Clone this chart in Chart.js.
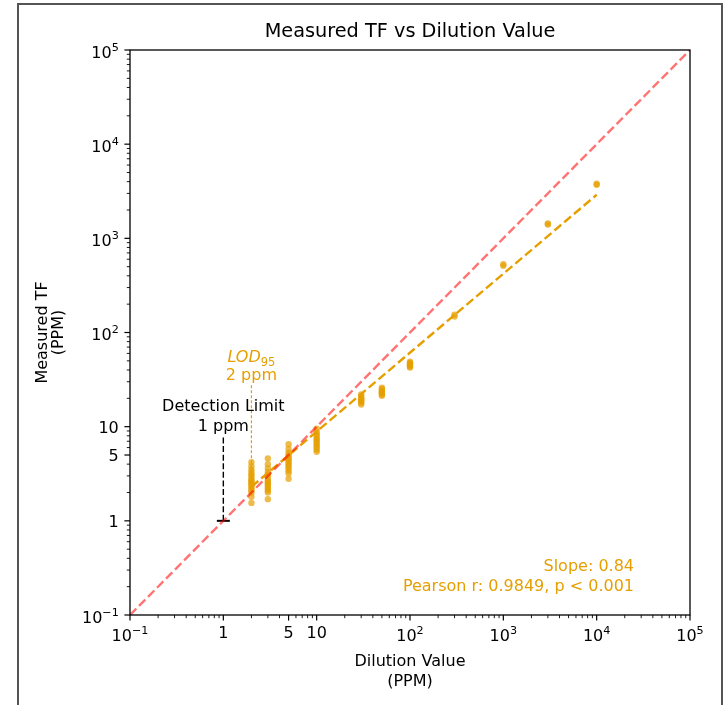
<!DOCTYPE html>
<html>
<head>
<meta charset="utf-8">
<script src="https://cdn.jsdelivr.net/npm/chart.js@4.4.0/dist/chart.umd.min.js"></script>
<style>
  html, body { margin: 0; padding: 0; background: #fff; }
  #wrap { position: relative; width: 725px; height: 705px; overflow: hidden; }
  #frame { position: absolute; left: 17px; top: 3px; width: 702px; height: 720px; border: 2px solid #555; }
  canvas { position: absolute; left: 0; top: 0; }
</style>
</head>
<body>
<div id="wrap">
  <div id="frame"></div>
  <canvas id="chart" width="725" height="705"></canvas>
</div>
<script>
// dilution levels (PPM) and the measured TF replicates at each level
const dilutionLevels = [2, 3, 5, 10, 30, 50, 100, 300, 1000, 3000, 10000];
const measuredTF = [
  [4.2, 3.8, 3.5, 3.3, 3.1, 3.0, 2.8, 2.7, 2.6, 2.5, 2.4, 2.3, 2.2, 2.1, 2.0, 1.8, 1.55],
  [4.6, 4.0, 3.6, 3.3, 3.1, 2.9, 2.7, 2.6, 2.5, 2.4, 2.3, 2.2, 2.1, 2.0, 1.7],
  [6.5, 5.8, 5.3, 5.0, 4.8, 4.6, 4.4, 4.2, 4.0, 3.8, 3.6, 3.4, 3.2, 2.8],
  [9.5, 8.8, 8.3, 7.9, 7.5, 7.2, 6.9, 6.6, 6.3, 6.0, 5.7, 5.4],
  [22, 21, 20, 19.5, 19, 18.5, 18, 17.2],
  [26, 25, 24.2, 23.5, 23, 22.5, 22, 21.3],
  [49, 47.5, 46.5, 45.5, 44.5, 43.5, 42.5],
  [148, 155],
  [510, 530],
  [1400, 1440],
  [3700, 3800]
];

// reference lines
const identityX = [0.1, 100000];
const fitX = [2, 10000];
const fitY = [2.3, 2900];
const detectionLimit = 1;
const detectionTop = 8;
const lod95 = 2;
const lodTop = 28;
const lodBottom = 2.5;

const slopeText = 'Slope: 0.84';
const pearsonText = 'Pearson r: 0.9849, p < 0.001';

// axis ticks (base^exponent)
const xTickValues = [0.1, 1, 5, 10, 100, 1000, 10000, 100000];
const xTickLabels = ['10^\u22121', '1', '5', '10', '10^2', '10^3', '10^4', '10^5'];
const yTickValues = [0.1, 1, 5, 10, 100, 1000, 10000, 100000];
const yTickLabels = ['10^\u22121', '1', '5', '10', '10^2', '10^3', '10^4', '10^5'];
const minorSteps = [2, 3, 4, 5, 6, 7, 8, 9];
const decades = [0.1, 1, 10, 100, 1000, 10000];

const ORANGE = '#E69F00';
const FONT = 'DejaVu Sans';
const BASE_PX = 16;
const EXP_PX = 11.2;

const points = [];
dilutionLevels.forEach((d, i) => {
  measuredTF[i].forEach(v => points.push({ x: d, y: v }));
});

// draws "10^5" style label; align = 'center' (x axis) or 'right' (y axis)
function sciLabel(ctx, label, px, py, align) {
  const [base, exp] = label.split('^');
  ctx.font = BASE_PX + 'px "' + FONT + '"';
  const wb = ctx.measureText(base).width;
  let we = 0;
  if (exp) { ctx.font = EXP_PX + 'px "' + FONT + '"'; we = ctx.measureText(exp).width; }
  const cap = BASE_PX * 0.73;
  const rise = exp ? 7 : 0;
  const h = cap + (exp ? 3.5 : 0);
  let left, baseline;
  if (align === 'center') {
    left = px - (wb + we) / 2;
    baseline = py + h;           // py = top of label box
  } else {
    left = px - wb - we;
    baseline = py + h / 2;       // py = tick centre
  }
  ctx.textAlign = 'left';
  ctx.textBaseline = 'alphabetic';
  ctx.font = BASE_PX + 'px "' + FONT + '"';
  ctx.fillText(base, left, baseline);
  if (exp) {
    ctx.font = EXP_PX + 'px "' + FONT + '"';
    ctx.fillText(exp, left + wb, baseline - rise);
  }
}

const decor = {
  id: 'decor',
  afterDatasetsDraw(chart) {
    const { ctx, chartArea: a, scales: { x, y } } = chart;
    ctx.save();

    // spines
    ctx.strokeStyle = '#000';
    ctx.lineWidth = 1.3;
    ctx.strokeRect(a.left, a.top, a.right - a.left, a.bottom - a.top);

    // tick marks
    const tick = (scale, v, len, w) => {
      const p = scale.getPixelForValue(v);
      ctx.lineWidth = w;
      ctx.beginPath();
      if (scale.axis === 'x') {
        ctx.moveTo(p, a.bottom); ctx.lineTo(p, a.bottom + len);
      } else {
        ctx.moveTo(a.left, p); ctx.lineTo(a.left - len, p);
      }
      ctx.stroke();
    };
    decades.forEach(d => minorSteps.forEach(m => {
      if (!(d === 1 && m === 5)) { tick(x, d * m, 3.2, 0.9); tick(y, d * m, 3.2, 0.9); }
    }));
    xTickValues.forEach(v => tick(x, v, 5.6, 1.2));
    yTickValues.forEach(v => tick(y, v, 5.6, 1.2));

    // tick labels
    ctx.fillStyle = '#000';
    xTickValues.forEach((v, i) => sciLabel(ctx, xTickLabels[i], x.getPixelForValue(v), a.bottom + 11.2, 'center'));
    yTickValues.forEach((v, i) => sciLabel(ctx, yTickLabels[i], a.left - 11.2, y.getPixelForValue(v), 'right'));

    // title
    ctx.textAlign = 'center';
    ctx.textBaseline = 'middle';
    ctx.font = '19.3px "' + FONT + '"';
    ctx.fillText('Measured TF vs Dilution Value', (a.left + a.right) / 2, 32);

    // axis titles
    ctx.font = '16px "' + FONT + '"';
    ctx.fillText('Dilution Value', (a.left + a.right) / 2, 662);
    ctx.fillText('(PPM)', (a.left + a.right) / 2, 682);
    ctx.save();
    ctx.translate(43, (a.top + a.bottom) / 2);
    ctx.rotate(-Math.PI / 2);
    ctx.fillText('Measured TF', 0, 0);
    ctx.fillText('(PPM)', 0, 16);
    ctx.restore();

    // detection limit label
    const dx = x.getPixelForValue(detectionLimit);
    const dTop = y.getPixelForValue(detectionTop);
    ctx.fillText('Detection Limit', dx, dTop - 29);
    ctx.fillText('1 ppm', dx, dTop - 9);

    // LOD95 label
    const lx = x.getPixelForValue(lod95);
    const lTop = y.getPixelForValue(lodTop);
    ctx.fillStyle = ORANGE;
    ctx.fillText('2 ppm', lx, lTop - 9);
    ctx.font = 'italic 16px "' + FONT + '"';
    const w1 = ctx.measureText('LOD').width;
    ctx.font = '11.5px "' + FONT + '"';
    const w2 = ctx.measureText('95').width;
    const sx = lx - (w1 + w2) / 2;
    ctx.textAlign = 'left';
    ctx.textBaseline = 'alphabetic';
    ctx.font = 'italic 16px "' + FONT + '"';
    ctx.fillText('LOD', sx, lTop - 23);
    ctx.font = '11.5px "' + FONT + '"';
    ctx.fillText('95', sx + w1, lTop - 19);

    // stats text
    ctx.textAlign = 'right';
    ctx.textBaseline = 'middle';
    ctx.font = '16px "' + FONT + '"';
    ctx.fillText(slopeText, a.right - 56, a.bottom - 48);
    ctx.fillText(pearsonText, a.right - 56, a.bottom - 28);

    ctx.restore();
  }
};

new Chart(document.getElementById('chart'), {
  type: 'scatter',
  data: {
    datasets: [
      {
        label: 'Identity',
        data: identityX.map(v => ({ x: v, y: v })),
        showLine: true,
        borderColor: 'rgba(255,0,0,0.55)',
        borderWidth: 2.4,
        borderDash: [8.9, 3.9],
        pointRadius: 0
      },
      {
        label: 'Fit',
        data: fitX.map((v, i) => ({ x: v, y: fitY[i] })),
        showLine: true,
        borderColor: ORANGE,
        borderWidth: 2.4,
        borderDash: [8.9, 3.9],
        pointRadius: 0
      },
      {
        label: 'Measured',
        data: points,
        backgroundColor: 'rgba(230,159,0,0.7)',
        borderWidth: 0,
        pointRadius: 3.2
      },
      {
        label: 'LOD95',
        data: [{ x: lod95, y: lodBottom }, { x: lod95, y: lodTop }],
        showLine: true,
        borderColor: ORANGE,
        borderWidth: 1.2,
        borderDash: [3, 2],
        pointRadius: 0
      },
      {
        label: 'Detection limit',
        data: [{ x: detectionLimit, y: detectionLimit }, { x: detectionLimit, y: detectionTop }],
        showLine: true,
        borderColor: '#000',
        borderWidth: 1.4,
        borderDash: [6, 2.6],
        pointRadius: 0
      },
      {
        label: 'Detection marker',
        data: [{ x: detectionLimit, y: detectionLimit }],
        pointStyle: 'line',
        pointRadius: 6.5,
        borderColor: '#000',
        borderWidth: 2
      }
    ]
  },
  options: {
    responsive: false,
    animation: false,
    layout: { padding: { left: 0, top: 50, right: 35, bottom: 0 } },
    plugins: { legend: { display: false }, tooltip: { enabled: false } },
    scales: {
      x: {
        type: 'logarithmic',
        min: 0.1,
        max: 100000,
        afterFit: s => { s.height = 90; },
        afterBuildTicks: s => { s.ticks = xTickValues.map(v => ({ value: v })); },
        grid: { display: false },
        border: { display: false },
        ticks: { display: false }
      },
      y: {
        type: 'logarithmic',
        min: 0.1,
        max: 100000,
        afterFit: s => { s.width = 130; },
        afterBuildTicks: s => { s.ticks = yTickValues.map(v => ({ value: v })); },
        grid: { display: false },
        border: { display: false },
        ticks: { display: false }
      }
    }
  },
  plugins: [decor]
});
</script>
</body>
</html>
